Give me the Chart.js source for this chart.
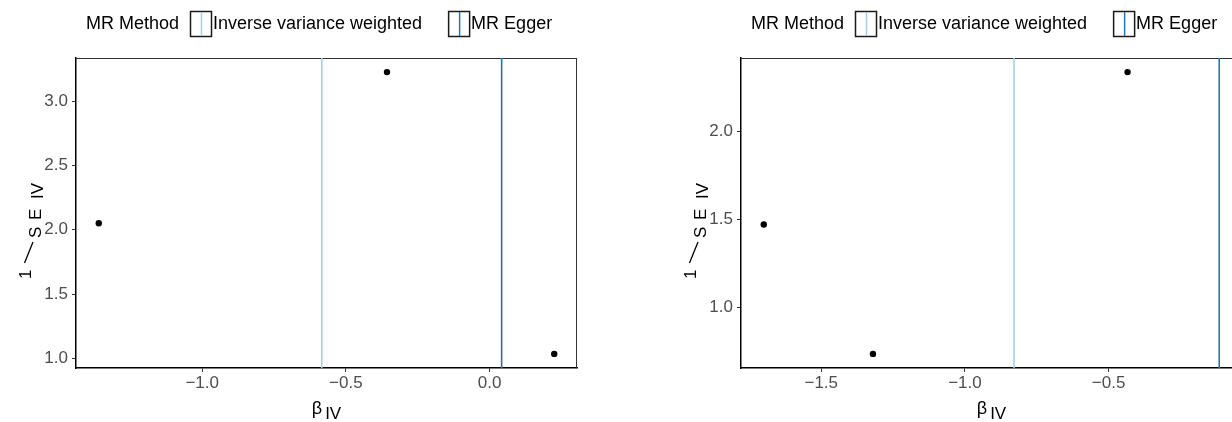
<!DOCTYPE html>
<html>
<head>
<meta charset="utf-8">
<title>MR funnel plots</title>
<script src="https://cdn.jsdelivr.net/npm/chart.js@4/dist/chart.umd.min.js"></script>
<style>
  html, body { margin: 0; padding: 0; background: #fff; }
  body { position: relative; width: 1232px; height: 422px; overflow: hidden; }
  .panel { position: absolute; top: 0; }
</style>
</head>
<body>
<div class="panel" style="left:0"><canvas id="funnelA" width="620" height="422"></canvas></div>
<div class="panel" style="left:665px"><canvas id="funnelB" width="620" height="422"></canvas></div>
<script>
// ---- data: left panel ----
const betaA   = [-1.36, -0.357, 0.225];   // per-SNP Wald ratio estimates
const invSeA  = [2.05, 3.225, 1.035];     // 1 / SE of each estimate
const ivwA    = -0.584;                   // inverse variance weighted estimate
const eggerA  = 0.042;                    // MR Egger estimate
const xTicksA = [-1.0, -0.5, 0.0];
const yTicksA = [1.0, 1.5, 2.0, 2.5, 3.0];

// ---- data: right panel ----
const betaB   = [-1.70, -1.32, -0.434];
const invSeB  = [1.47, 0.735, 2.335];
const ivwB    = -0.829;
const eggerB  = -0.115;
const xTicksB = [-1.5, -1.0, -0.5];
const yTicksB = [1.0, 1.5, 2.0];

const methodNames  = ['Inverse variance weighted', 'MR Egger'];
const methodColors = ['#a6cee3', '#1f78b4'];
const legendTitle  = 'MR Method';

const FONT = "'Liberation Sans', Arial, Helvetica, sans-serif";
const PLOT_TOP = 58, PLOT_BOTTOM = 368, PLOT_LEFT = 76, PLOT_RIGHT = 577;

// ggplot-style limits: data range padded by 5% on each side
function padRange(values) {
  const lo = Math.min(...values), hi = Math.max(...values);
  const p = (hi - lo) * 0.05;
  return [lo - p, hi + p];
}

function fmt(v) {
  const s = Math.abs(v).toFixed(1);
  return v < -1e-9 ? '\u2212' + s : s;
}

// panel border, axis titles and the method legend
const decorations = {
  id: 'decorations',
  beforeDatasetsDraw(chart) {
    const { ctx, chartArea: a } = chart;
    ctx.save();
    ctx.strokeStyle = '#333';
    ctx.lineWidth = 1;
    ctx.beginPath();
    ctx.moveTo(a.left, a.top + 0.5);
    ctx.lineTo(a.right, a.top + 0.5);
    ctx.moveTo(a.right - 0.5, a.top);
    ctx.lineTo(a.right - 0.5, a.bottom);
    ctx.stroke();
    ctx.restore();
  },
  afterDraw(chart) {
    const { ctx, chartArea: a } = chart;
    ctx.save();
    ctx.fillStyle = '#000';

    // x title: beta with IV subscript
    const cx = (a.left + a.right) / 2;
    ctx.font = `18px ${FONT}`;
    const wB = ctx.measureText('\u03b2').width;
    ctx.font = `17px ${FONT}`;
    const wIV = ctx.measureText('IV').width;
    const gap = 3;
    const x0 = cx - (wB + gap + wIV) / 2;
    ctx.textBaseline = 'alphabetic';
    ctx.textAlign = 'left';
    ctx.font = `18px ${FONT}`;
    ctx.fillText('\u03b2', x0, 414);
    ctx.font = `17px ${FONT}`;
    ctx.fillText('IV', x0 + wB + gap, 419);

    // y title: 1 / SE with IV subscript, reading upward
    ctx.save();
    ctx.translate(41, 279);
    ctx.rotate(-Math.PI / 2);
    ctx.font = `17px ${FONT}`;
    ctx.fillText('1', 0, -10);
    ctx.fillText('S', 41, 0);
    ctx.fillText('E', 59, 0);
    ctx.fillText('IV', 80, 2);
    ctx.restore();
    // fraction stroke between numerator and denominator
    ctx.strokeStyle = '#000';
    ctx.lineWidth = 1.3;
    ctx.beginPath();
    ctx.moveTo(24.5, 263);
    ctx.lineTo(33, 242);
    ctx.stroke();

    // legend
    ctx.textAlign = 'left';
    ctx.textBaseline = 'middle';
    ctx.font = `18px ${FONT}`;
    ctx.fillText(legendTitle, 86, 24);
    let kx = 190;
    chart.data.datasets.filter(d => d.inLegend).forEach(d => {
      ctx.strokeStyle = '#1a1a1a';
      ctx.lineWidth = 1.5;
      ctx.strokeRect(kx + 0.5, 11.5, 21, 25);
      ctx.strokeStyle = d.borderColor;
      ctx.lineWidth = 1.5;
      ctx.beginPath();
      ctx.moveTo(kx + 11.5, 12);
      ctx.lineTo(kx + 11.5, 36);
      ctx.stroke();
      ctx.fillStyle = '#000';
      ctx.fillText(d.label, kx + 23, 24);
      kx += 23 + ctx.measureText(d.label).width + 26;
    });
    ctx.restore();
  }
};

function makePanel(canvasId, beta, invSe, ivw, egger, xTicks, yTicks) {
  const [xMin, xMax] = padRange([...beta, ivw, egger]);
  const [yMin, yMax] = padRange(invSe);
  const estimates = [ivw, egger];

  const datasets = [{
    label: 'SNP',
    data: beta.map((b, i) => ({ x: b, y: invSe[i] })),
    showLine: false,
    pointRadius: 3.2,
    pointBackgroundColor: '#000',
    pointBorderWidth: 0
  }];
  estimates.forEach((est, i) => {
    datasets.push({
      label: methodNames[i],
      inLegend: true,
      data: [{ x: est, y: yMin }, { x: est, y: yMax }],
      showLine: true,
      borderColor: methodColors[i],
      borderWidth: 1.6,
      pointRadius: 0
    });
  });

  const canvas = document.getElementById(canvasId);
  return new Chart(canvas, {
    type: 'scatter',
    data: { datasets },
    plugins: [decorations],
    options: {
      responsive: false,
      animation: false,
      events: [],
      layout: { padding: { top: PLOT_TOP, left: 0, bottom: 0, right: canvas.width - PLOT_RIGHT } },
      plugins: { legend: { display: false }, tooltip: { enabled: false }, title: { display: false } },
      scales: {
        x: {
          type: 'linear',
          min: xMin, max: xMax,
          afterBuildTicks: s => { s.ticks = xTicks.map(v => ({ value: v })); },
          afterFit: s => { s.height = canvas.height - PLOT_BOTTOM; },
          ticks: {
            font: { family: FONT, size: 17 }, color: '#4d4d4d', padding: 1,
            maxRotation: 0, autoSkip: false, callback: v => fmt(v)
          },
          grid: { drawOnChartArea: false, drawTicks: true, tickLength: 4, color: '#333', lineWidth: 1 },
          border: { display: true, color: '#000', width: 1.5 }
        },
        y: {
          type: 'linear',
          min: yMin, max: yMax,
          afterBuildTicks: s => { s.ticks = yTicks.map(v => ({ value: v })); },
          afterFit: s => { s.width = PLOT_LEFT; },
          ticks: {
            font: { family: FONT, size: 17 }, color: '#4d4d4d', padding: 4,
            autoSkip: false, callback: v => fmt(v)
          },
          grid: { drawOnChartArea: false, drawTicks: true, tickLength: 4, color: '#333', lineWidth: 1 },
          border: { display: true, color: '#000', width: 1.5 }
        }
      }
    }
  });
}

makePanel('funnelA', betaA, invSeA, ivwA, eggerA, xTicksA, yTicksA);
makePanel('funnelB', betaB, invSeB, ivwB, eggerB, xTicksB, yTicksB);
</script>
</body>
</html>
